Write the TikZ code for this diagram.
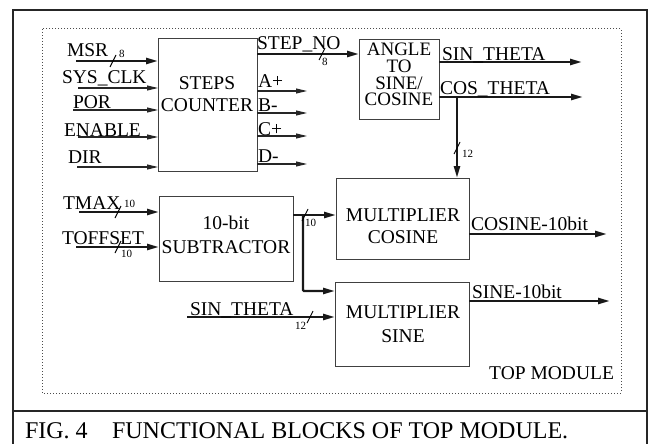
\documentclass[tikz,border=0pt]{standalone}
\usepackage{fontspec}
\setmainfont{Liberation Serif}
\usetikzlibrary{arrows.meta}
\begin{document}
\begin{tikzpicture}[x=1pt,y=-1pt,
  every node/.style={inner sep=0pt,outer sep=0pt},
  box/.style={draw=black!75,line width=0.9pt},
  lbl/.style={font=\fontsize{19.5}{17}\selectfont,anchor=base west},
  btxt/.style={font=\fontsize{19.5}{17}\selectfont,anchor=base},
  sm/.style={font=\fontsize{11}{11}\selectfont},
  thin/.style={line width=1.1pt,draw=black!85,-{Triangle[length=11pt,width=5pt]}},
  bus/.style={line width=2.4pt,draw=black!90,-{Triangle[length=12pt,width=6pt]}},
  sl/.style={line width=0.9pt}]
\useasboundingbox (0,0) rectangle (648,444);
% frame
\draw[line width=1.2pt,black!85] (13,446) -- (13,10) -- (647,10) -- (647,446);
\draw[line width=1.2pt,black!85] (13,411) -- (647,411);
\node[font=\fontsize{24}{24}\selectfont,anchor=base west] (fig) at (25,438) {FIG. 4};
\node[font=\fontsize{24}{24}\selectfont,anchor=base west] (cap) at (112,438) {FUNCTIONAL BLOCKS OF TOP MODULE.};
% dotted module box
\draw[dotted,line width=1pt,black!70] (42,29) rectangle (621,393);
\node[lbl,anchor=base east] (top) at (614,379) {TOP MODULE};
% boxes
\node[box,minimum width=99pt,minimum height=133pt] (sc) at (207.5,104.5) {};
\node[box,minimum width=80pt,minimum height=80pt] (ang) at (399,79) {};
\node[box,minimum width=134pt,minimum height=85pt] (sub) at (226,238.5) {};
\node[box,minimum width=133pt,minimum height=81pt] (mc) at (402.5,218.5) {};
\node[box,minimum width=134pt,minimum height=84pt] (ms) at (402,324) {};
% box texts
\node[btxt] (t1) at (207,89) {STEPS};
\node[btxt] (t2) at (207,111) {COUNTER};
\node[btxt,align=center,font=\fontsize{19}{16.8}\selectfont] (t3) at (399,106) {ANGLE\\TO\\SINE/\\COSINE};
\node[btxt] (t7) at (226,229) {10-bit};
\node[btxt] (t8) at (226,253) {SUBTRACTOR};
\node[btxt] (t9) at (403,221) {MULTIPLIER};
\node[btxt] (t10) at (403,243) {COSINE};
\node[btxt] (t11) at (403,318) {MULTIPLIER};
\node[btxt] (t12) at (403,342) {SINE};
% steps counter inputs
\coordinate (msr) at (76,61);
\coordinate (clk) at (78,88);
\coordinate (por) at (73,110);
\coordinate (en) at (78,137);
\coordinate (dir) at (77,167);
\draw[bus] (msr) -- (msr -| sc.west);
\draw[thin] (clk) -- (clk -| sc.west);
\draw[thin] (por) -- (por -| sc.west);
\draw[thin] (en) -- (en -| sc.west);
\draw[thin] (dir) -- (dir -| sc.west);
\node[lbl] (lmsr) at (67,57) {MSR};
\draw[sl] (110,67) -- (116,55);
\node[sm,anchor=base west] (n8a) at (119,58) {8};
\node[lbl] (lclk) at (62,84) {SYS\_CLK};
\node[lbl] (lpor) at (73,108) {POR};
\node[lbl] (len) at (64,136) {ENABLE};
\node[lbl] (ldir) at (68,163) {DIR};
% steps counter outputs
\coordinate (a) at (307,91);
\coordinate (b) at (307,113);
\coordinate (c) at (307,136);
\coordinate (d) at (307,164);
\draw[thin] (a -| sc.east) -- (a);
\draw[thin] (b -| sc.east) -- (b);
\draw[thin] (c -| sc.east) -- (c);
\draw[thin] (d -| sc.east) -- (d);
\node[lbl] (la) at (258,88) {A+};
\node[lbl] (lb) at (258,111) {B-};
\node[lbl] (lc) at (258,135) {C+};
\node[lbl] (ld) at (258,162) {D-};
% step no
\coordinate (stp) at (257,54);
\draw[bus] (stp) -- (stp -| ang.west);
\node[lbl] (lstp) at (257,50) {STEP\_NO};
\draw[sl] (319,60) -- (325,48);
\node[sm,anchor=base west] (n8b) at (322,66) {8};
% angle outputs
\coordinate (sin) at (582,62);
\coordinate (cos) at (583,97);
\draw[bus] (sin -| ang.east) -- (sin);
\draw[bus] (cos -| ang.east) -- (cos);
\node[lbl] (lsin) at (442,61) {SIN\_THETA};
\node[lbl] (lcos) at (440,95) {COS\_THETA};
\coordinate (cj) at (457,97);
\draw[bus] (cj) -- (cj |- mc.north);
\draw[sl] (454,154) -- (460,142);
\node[sm,anchor=base west] (n12a) at (462,157) {12};
% multiplier outputs
\coordinate (co) at (607,234);
\coordinate (so) at (610,301);
\draw[bus] (co -| mc.east) -- (co);
\draw[bus] (so -| ms.east) -- (so);
\node[lbl] (lco) at (471,230) {COSINE-10bit};
\node[lbl] (lso) at (472,298) {SINE-10bit};
% subtractor inputs
\coordinate (tmax) at (79,212);
\coordinate (toff) at (76,247);
\draw[bus] (tmax) -- (tmax -| sub.west);
\draw[bus] (toff) -- (toff -| sub.west);
\node[lbl] (ltmax) at (63,209) {TMAX};
\draw[sl] (115,218) -- (121,206);
\node[sm,anchor=base west] (n10a) at (124,207) {10};
\node[lbl] (ltoff) at (62,244) {TOFFSET};
\draw[sl] (115,253) -- (121,241);
\node[sm,anchor=base west] (n10b) at (121,257) {10};
% subtractor output
\coordinate (so1) at (293,215);
\coordinate (br) at (303,215);
\draw[bus] (so1) -- (so1 -| mc.west);
\draw[bus,rounded corners=1pt] (br) -- (303,291) -- (ms.west |- 0,291);
\draw[sl] (302,221) -- (308,209);
\node[sm,anchor=base west] (n10c) at (305,226) {10};
% sin theta input
\coordinate (sti) at (187,317);
\draw[bus] (sti) -- (sti -| ms.west);
\node[lbl] (lsti) at (190,315) {SIN\_THETA};
\draw[sl] (307,323) -- (313,311);
\node[sm,anchor=base west] (n12b) at (295,329) {12};
\end{tikzpicture}
\end{document}
